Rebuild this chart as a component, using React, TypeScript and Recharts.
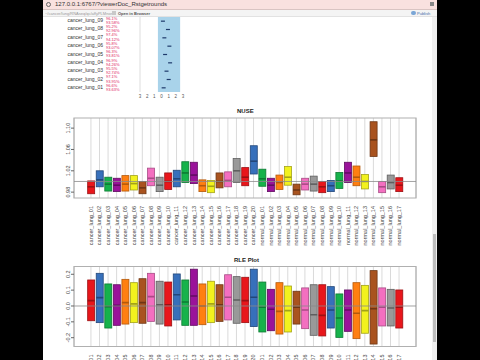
import React from 'react'
import {
  ComposedChart,
  Bar,
  XAxis,
  YAxis,
  CartesianGrid,
  ReferenceLine,
  ReferenceArea,
  ScatterChart,
  Scatter,
} from 'recharts'

// sample names on the x axis (shared by both plots)
const samples = [
  'cancer_lung_01', 'cancer_lung_02', 'cancer_lung_03', 'cancer_lung_04', 'cancer_lung_05',
  'cancer_lung_06', 'cancer_lung_07', 'cancer_lung_08', 'cancer_lung_09', 'cancer_lung_10',
  'cancer_lung_11', 'cancer_lung_12', 'cancer_lung_13', 'cancer_lung_14', 'cancer_lung_15',
  'cancer_lung_16', 'cancer_lung_17', 'cancer_lung_18', 'cancer_lung_19', 'cancer_lung_20',
  'normal_lung_01', 'normal_lung_02', 'normal_lung_03', 'normal_lung_04', 'normal_lung_05',
  'normal_lung_06', 'normal_lung_07', 'normal_lung_08', 'normal_lung_09', 'normal_lung_10',
  'normal_lung_11', 'normal_lung_12', 'normal_lung_13', 'normal_lung_14', 'normal_lung_15',
  'normal_lung_16', 'normal_lung_17',
]
const sampleIdx = [
  1, 2, 3, 4, 5, 6, 7, 8, 9, 10, 11, 12, 13, 14, 15, 16, 17, 18, 19, 20,
  21, 22, 23, 24, 25, 26, 27, 28, 29, 30, 31, 32, 33, 34, 35, 36, 37,
]

const nuseQ1 = [
  0.977, 0.990, 0.982, 0.981, 0.982, 0.984, 0.977, 0.992, 0.981, 0.985,
  0.990, 0.998, 0.996, 0.981, 0.979, 0.988, 0.990, 0.998, 0.992, 1.014,
  0.991, 0.981, 0.985, 0.993, 0.975, 0.984, 0.982, 0.979, 0.981, 0.987,
  0.998, 0.992, 0.986, 1.047, 0.979, 0.986, 0.981,
]
const nuseMed = [
  0.990, 1.003, 0.995, 0.993, 0.995, 0.996, 0.988, 1.006, 0.993, 1.000,
  1.005, 1.016, 1.012, 0.992, 0.991, 1.000, 1.002, 1.020, 1.008, 1.038,
  1.005, 0.993, 0.998, 1.008, 0.984, 0.995, 0.995, 0.990, 0.992, 1.001,
  1.016, 1.008, 1.000, 1.078, 0.990, 0.998, 0.993,
]
const nuseQ3 = [
  1.001, 1.020, 1.008, 1.006, 1.011, 1.011, 1.000, 1.025, 1.008, 1.016,
  1.021, 1.037, 1.036, 1.003, 1.002, 1.016, 1.018, 1.043, 1.026, 1.067,
  1.023, 1.006, 1.012, 1.028, 0.995, 1.006, 1.010, 1.000, 1.002, 1.017,
  1.036, 1.029, 1.013, 1.112, 1.000, 1.012, 1.007,
]

const rleQ1 = [
  -0.093, -0.105, -0.139, -0.122, -0.114, -0.105, -0.109, -0.097, -0.114, -0.126,
  -0.088, -0.122, -0.122, -0.118, -0.105, -0.097, -0.088, -0.109, -0.105, -0.130,
  -0.164, -0.156, -0.177, -0.164, -0.114, -0.143, -0.185, -0.189, -0.139, -0.198,
  -0.160, -0.206, -0.172, -0.240, -0.126, -0.126, -0.139,
]
const rleMed = [
  0.034, 0.053, -0.004, 0.004, 0.021, 0.013, 0.021, 0.059, 0.008, 0.008,
  0.071, 0.025, 0.063, 0.000, 0.013, 0.008, 0.055, 0.038, 0.034, 0.055,
  -0.008, -0.021, -0.034, -0.029, -0.008, -0.025, -0.055, -0.059, -0.025, -0.076,
  -0.025, -0.046, -0.029, -0.017, -0.008, -0.013, -0.008,
]
const rleQ3 = [
  0.164, 0.206, 0.139, 0.134, 0.168, 0.147, 0.172, 0.206, 0.156, 0.151,
  0.202, 0.164, 0.232, 0.139, 0.156, 0.134, 0.197, 0.185, 0.181, 0.232,
  0.151, 0.105, 0.147, 0.126, 0.093, 0.114, 0.134, 0.134, 0.122, 0.076,
  0.101, 0.147, 0.130, 0.223, 0.114, 0.105, 0.101,
]

const boxFill = ['#e8161b', '#3770bb', '#16b24b', '#9a139a', '#ff7f11', '#f2f21e', '#a9531f', '#f36fc0', '#999999']
const boxLine = ['#9c1013', '#22477a', '#0e7a33', '#620c62', '#b35a0c', '#a3a318', '#6e3614', '#a84c85', '#5f5f5f']

// the partly scrolled-off panel at the top
const rowLabels = [
  'cancer_lung_09', 'cancer_lung_08', 'cancer_lung_07', 'cancer_lung_06', 'cancer_lung_05',
  'cancer_lung_04', 'cancer_lung_03', 'cancer_lung_02', 'cancer_lung_01',
]
const rowPctA = ['96.1%', '95.2%', '97.4%', '95.8%', '96.3%', '96.9%', '95.5%', '97.1%', '96.6%']
const rowPctB = ['93.58%', '92.96%', '94.12%', '93.07%', '93.81%', '94.26%', '92.74%', '93.95%', '93.63%']
const rowPos = [9, 8, 7, 6, 5, 4, 3, 2, 1]
const rowEst = [0.2, 0.9, 0.4, 1.1, 0.5, 1.2, 0.7, 1.0, 0.3]
const panelTicks = [-3, -2, -1, 0, 1, 2, 3]

const FONT = '"Liberation Sans", Arial, sans-serif'

const nuseData = samples.map((s, i) => ({
  idx: sampleIdx[i], name: s, q1: nuseQ1[i], med: nuseMed[i], q3: nuseQ3[i],
  fill: boxFill[i % 9], line: boxLine[i % 9],
}))
const rleData = samples.map((s, i) => ({
  idx: sampleIdx[i], name: s, q1: rleQ1[i], med: rleMed[i], q3: rleQ3[i],
  fill: boxFill[i % 9], line: boxLine[i % 9],
}))
const panelData = rowPos.map((p, i) => ({ x: rowEst[i], y: p }))

function BoxShape(props: any) {
  const { x, y, width, height, payload } = props
  const top = Math.min(y, y + height)
  const h = Math.abs(height)
  const yMed = top + (h * (payload.q3 - payload.med)) / (payload.q3 - payload.q1)
  return (
    <g>
      <rect x={x} y={top} width={width} height={h} fill={payload.fill} stroke={payload.line} strokeWidth={0.8} />
      <line x1={x} x2={x + width} y1={yMed} y2={yMed} stroke={payload.line} strokeWidth={1.6} />
    </g>
  )
}

function SampleTick(props: any) {
  const { x, y, payload } = props
  return (
    <g transform={`translate(${x},${y}) rotate(-90)`}>
      <text x={0} y={0} dy="0.35em" textAnchor="end" fontSize={5.5} fill="#444" fontFamily={FONT}>
        {samples[payload.value - 1]}
      </text>
    </g>
  )
}

function makeYTick(digits: number) {
  return function YTick(props: any) {
    const { x, y, payload } = props
    return (
      <g transform={`translate(${x + 1},${y}) rotate(-90)`}>
        <text x={0} y={0} textAnchor="middle" fontSize={5.5} fill="#444" fontFamily={FONT}>
          {payload.value.toFixed(digits)}
        </text>
      </g>
    )
  }
}

function BoxPanel({ data, domain, ticks, digits, refY, height, margin, xHeight }: any) {
  return (
    <ComposedChart width={380} height={height} data={data} margin={margin}>
      <CartesianGrid horizontal={false} stroke="#dadada" />
      <XAxis
        dataKey="idx"
        type="number"
        domain={[-0.98, 38.98]}
        ticks={sampleIdx}
        interval={0}
        allowDataOverflow
        tick={<SampleTick />}
        tickLine={false}
        axisLine={false}
        height={xHeight}
      />
      <YAxis
        domain={domain}
        ticks={ticks}
        interval={0}
        allowDataOverflow
        width={14}
        axisLine={false}
        tickSize={3}
        tickLine={{ stroke: '#666' }}
        tick={makeYTick(digits)}
      />
      <ReferenceArea y1={domain[0]} y2={domain[1]} fill="none" stroke="#b0b0b0" strokeWidth={1.2} ifOverflow="extendDomain" />
      <ReferenceLine y={refY} stroke="#8a8a8a" strokeWidth={0.8} />
      <Bar dataKey={(d: any) => [d.q1, d.q3]} barSize={7} shape={<BoxShape />} isAnimationActive={false} />
    </ComposedChart>
  )
}

export default function App() {
  return (
    <div style={{ position: 'fixed', left: 0, top: 0, width: 480, height: 360, background: '#000', overflow: 'hidden', fontFamily: FONT }}>
      {/* browser window */}
      <div style={{ position: 'absolute', left: 43, top: 0, width: 394, height: 360, background: '#fff' }} />
      <div style={{ position: 'absolute', left: 43, top: 0, width: 394, height: 9, background: '#f9e1df', borderBottom: '1px solid #d9c4c2' }} />
      <div style={{ position: 'absolute', left: 46, top: 1.5, width: 5, height: 5, borderRadius: 3, border: '1px solid #666', boxSizing: 'border-box' }} />
      <div style={{ position: 'absolute', left: 55, top: 1, fontSize: 6, color: '#333', whiteSpace: 'nowrap' }}>127.0.0.1:6767/?viewerDoc_Rstgetrounds</div>
      <div style={{ position: 'absolute', left: 430, top: 2, width: 4, height: 4, background: '#888' }} />
      <div style={{ position: 'absolute', left: 43, top: 10, width: 394, height: 6, background: '#f4f4f4', borderBottom: '1px solid #e2e2e2' }} />
      <div style={{ position: 'absolute', left: 45, top: 10.5, fontSize: 4, color: '#999', whiteSpace: 'nowrap' }}>~/cancer/lung/RNAseq/qc/affyPLMnorm</div>
      <div style={{ position: 'absolute', left: 112, top: 11, width: 4, height: 4, background: '#c9c9c9' }} />
      <div style={{ position: 'absolute', left: 118, top: 10.5, fontSize: 4, fontWeight: 'bold', color: '#555', whiteSpace: 'nowrap' }}>Open in Browser</div>
      <div style={{ position: 'absolute', left: 411, top: 11, width: 5, height: 4, borderRadius: 2, background: '#7aa6d6' }} />
      <div style={{ position: 'absolute', left: 417, top: 10.5, fontSize: 4, color: '#3f6fa8', whiteSpace: 'nowrap' }}>Publish</div>
      {/* scrollbar */}
      <div style={{ position: 'absolute', left: 432, top: 17, width: 5, height: 343, background: '#f0f0f0' }} />
      <div style={{ position: 'absolute', left: 433, top: 234, width: 3, height: 108, background: '#bdbdbd' }} />

      {/* top panel, mostly scrolled away */}
      {rowLabels.map((l, i) => (
        <div key={l} style={{ position: 'absolute', left: 50, width: 53, top: 17 + i * 8.4, fontSize: 5, color: '#333', textAlign: 'right', whiteSpace: 'nowrap' }}>{l}</div>
      ))}
      {rowLabels.map((l, i) => (
        <div key={l + 'p'} style={{ position: 'absolute', left: 106, top: 16.5 + i * 8.4, fontSize: 4, lineHeight: '4.2px', color: '#e0245e', whiteSpace: 'nowrap' }}>
          {rowPctA[i]}<br />{rowPctB[i]}
        </div>
      ))}
      <div style={{ position: 'absolute', left: 130, top: 12 }}>
        <ScatterChart width={60} height={92} margin={{ top: 5, right: 7, bottom: 2, left: 10 }}>
          <XAxis type="number" dataKey="x" domain={[-3, 3]} ticks={panelTicks} interval={0} tickSize={0} tickMargin={3} axisLine={false}
            tickFormatter={(v: number) => String(Math.abs(v))} tick={{ fontSize: 4.5, fill: '#555' }} height={10} />
          <YAxis type="number" dataKey="y" domain={[0.5, 9.5]} hide />
          <ReferenceArea x1={-0.5} x2={2.6} fill="#a9d3ea" fillOpacity={1} stroke="none" />
          <ReferenceLine x={-3} stroke="#dddddd" />
          <Scatter data={panelData} fill="#1f3a6b" isAnimationActive={false}
            shape={(p: any) => <rect x={p.cx - 2} y={p.cy - 0.6} width={4} height={1.2} fill="#1f3a6b" />} />
        </ScatterChart>
      </div>

      {/* NUSE */}
      <div style={{ position: 'absolute', left: 50, top: 108, width: 390, fontSize: 6, fontWeight: 'bold', color: '#222' }}>
        <span style={{ position: 'absolute', left: 187 }}>NUSE</span>
      </div>
      <div style={{ position: 'absolute', left: 50, top: 110 }}>
        <BoxPanel data={nuseData} domain={[0.969, 1.119]} ticks={[0.98, 1.02, 1.06, 1.1]} digits={2} refY={1}
          height={140} margin={{ top: 8, right: 14, bottom: 4, left: 10 }} xHeight={48} />
      </div>

      {/* RLE */}
      <div style={{ position: 'absolute', left: 50, top: 257, width: 390, fontSize: 6, fontWeight: 'bold', color: '#222' }}>
        <span style={{ position: 'absolute', left: 184 }}>RLE Plot</span>
      </div>
      <div style={{ position: 'absolute', left: 50, top: 258 }}>
        <BoxPanel data={rleData} domain={[-0.2555, 0.249]} ticks={[-0.2, -0.1, 0, 0.1, 0.2]} digits={1} refY={0}
          height={130} margin={{ top: 8.5, right: 14, bottom: 1.5, left: 10 }} xHeight={40} />
      </div>
    </div>
  )
}
